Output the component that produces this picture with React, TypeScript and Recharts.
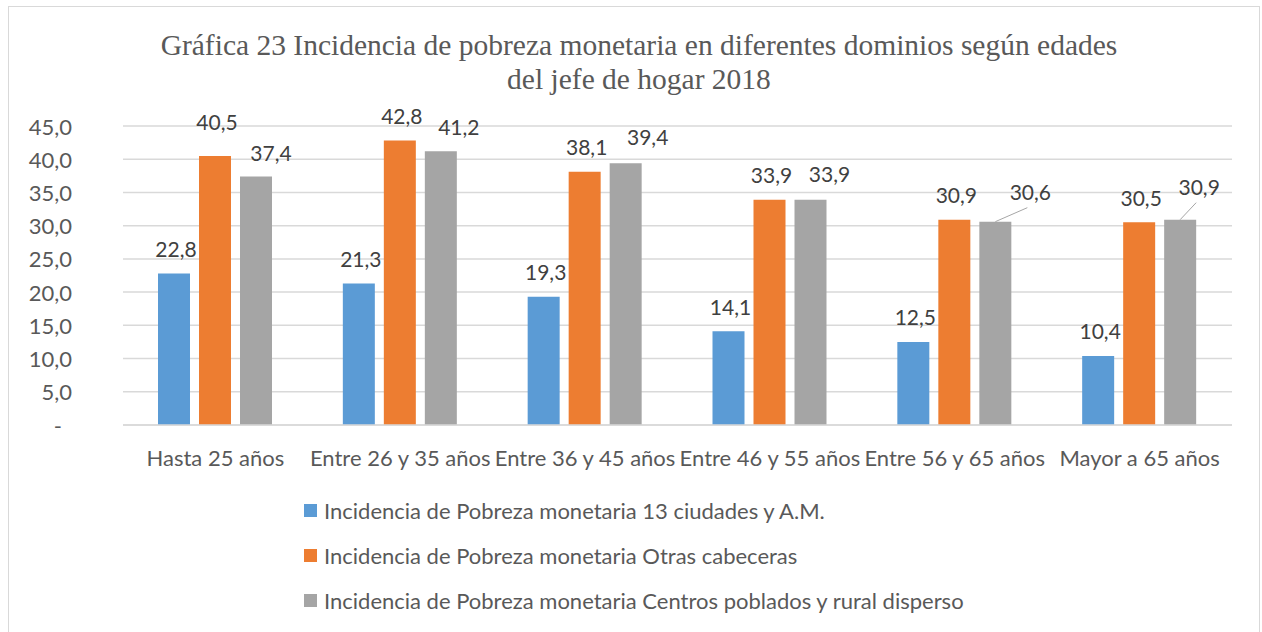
import { BarChart, Bar, XAxis, YAxis, CartesianGrid, LabelList } from 'recharts';

const categorias = [
  'Hasta 25 años',
  'Entre 26 y 35 años',
  'Entre 36 y 45 años',
  'Entre 46 y 55 años',
  'Entre 56 y 65 años',
  'Mayor a 65 años',
];

const ciudades = [22.8, 21.3, 19.3, 14.1, 12.5, 10.4];
const cabeceras = [40.5, 42.8, 38.1, 33.9, 30.9, 30.5];
const rural = [37.4, 41.2, 39.4, 33.9, 30.6, 30.9];

const nombres = [
  'Incidencia de Pobreza monetaria 13 ciudades y A.M.',
  'Incidencia de Pobreza monetaria Otras cabeceras',
  'Incidencia de Pobreza monetaria Centros poblados y rural disperso',
];
const colores = ['#5b9bd5', '#ed7d31', '#a5a5a5'];
const claves = ['ciudades', 'cabeceras', 'rural'];

const yTicks = [0, 5, 10, 15, 20, 25, 30, 35, 40, 45];

const titulo = [
  'Gráfica 23 Incidencia de pobreza monetaria en diferentes dominios según edades',
  'del jefe de hogar 2018',
];

const data = categorias.map((categoria, i) => ({
  categoria,
  ciudades: ciudades[i],
  cabeceras: cabeceras[i],
  rural: rural[i],
}));

const FONT = "Lato, 'Open Sans', sans-serif";
const FS = 22;

// etiquetas movidas a mano en el original
const ajustes: Record<string, { dx?: number; dy?: number; linea?: [number, number] }> = {
  'cabeceras-0': { dy: -34 },
  'rural-0': { dx: 15, dy: -24 },
  'rural-1': { dx: 18 },
  'rural-2': { dx: 22, dy: -27 },
  'rural-3': { dx: 19, dy: -26 },
  'rural-4': { dx: 35, dy: -30, linea: [32, -14] },
  'rural-5': { dx: 19, dy: -33, linea: [16, -17] },
};

const fmt = (v: number) => v.toFixed(1).replace('.', ',');

function etiqueta(serie: string) {
  return (props: any) => {
    const { x, y, width, value, index } = props;
    const cx = Number(x) + Number(width) / 2;
    const top = Number(y);
    const a = ajustes[`${serie}-${index}`] || {};
    const dx = a.dx ?? 2;
    const dy = a.dy ?? -25;
    return (
      <g>
        {a.linea && (
          <line x1={cx} y1={top} x2={cx + a.linea[0]} y2={top + a.linea[1]} stroke="#a6a6a6" strokeWidth={1} />
        )}
        <text
          x={cx + dx}
          y={top + dy}
          textAnchor="middle"
          dominantBaseline="central"
          fill="#404040"
          fontSize={21}
          fontFamily={FONT}
        >
          {fmt(Number(value))}
        </text>
      </g>
    );
  };
}

function TickY(props: any) {
  const { x, y, payload } = props;
  const v = Number(payload.value);
  return (
    <text
      x={v === 0 ? x - 10 : x}
      y={y}
      textAnchor="end"
      dominantBaseline="central"
      fill="#595959"
      fontSize={FS}
      fontFamily={FONT}
    >
      {v === 0 ? '-' : fmt(v)}
    </text>
  );
}

export default function App() {
  return (
    <div style={{ position: 'absolute', left: 0, top: 0, width: 1262, height: 632, background: '#fff', overflow: 'hidden' }}>
      <div
        style={{
          position: 'absolute',
          left: 8,
          top: 6,
          width: 1252,
          height: 660,
          border: '1px solid #d9d9d9',
          boxSizing: 'border-box',
        }}
      >
        <BarChart
          width={1250}
          height={625}
          data={data}
          margin={{ top: 119, right: 27, left: 0, bottom: 167 }}
          barSize={32}
          barGap={9}
        >
          <CartesianGrid vertical={false} stroke="#d9d9d9" strokeWidth={1.5} />
          <XAxis
            dataKey="categoria"
            height={40}
            tickLine={false}
            tickSize={0}
            tickMargin={25}
            axisLine={{ stroke: '#d9d9d9', strokeWidth: 1.5 }}
            tick={{ fill: '#595959', fontSize: FS, fontFamily: FONT }}
            interval={0}
          />
          <YAxis
            width={114}
            domain={[0, 45]}
            ticks={yTicks}
            axisLine={false}
            tickLine={false}
            tickSize={0}
            tickMargin={51}
            tick={<TickY />}
          />
          {claves.map((k, i) => (
            <Bar key={k} dataKey={k} name={nombres[i]} fill={colores[i]} isAnimationActive={false}>
              <LabelList dataKey={k} content={etiqueta(k)} />
            </Bar>
          ))}
        </BarChart>
      </div>
      <div
        style={{
          position: 'absolute',
          left: 0,
          top: 28,
          width: 1278,
          textAlign: 'center',
          fontFamily: "'Liberation Serif', 'Times New Roman', serif",
          fontSize: 29.5,
          lineHeight: '34px',
          color: '#595959',
        }}
      >
        {titulo.map((t) => (
          <div key={t}>{t}</div>
        ))}
      </div>
      {nombres.map((n, i) => (
        <div
          key={n}
          style={{
            position: 'absolute',
            left: 304,
            top: 497 + i * 45,
            height: 26,
            display: 'flex',
            alignItems: 'center',
            fontFamily: FONT,
            fontSize: FS,
            color: '#595959',
            whiteSpace: 'nowrap',
          }}
        >
          <span style={{ width: 13, height: 13, background: colores[i], display: 'inline-block' }} />
          <span style={{ marginLeft: 7 }}>{n}</span>
        </div>
      ))}
    </div>
  );
}
